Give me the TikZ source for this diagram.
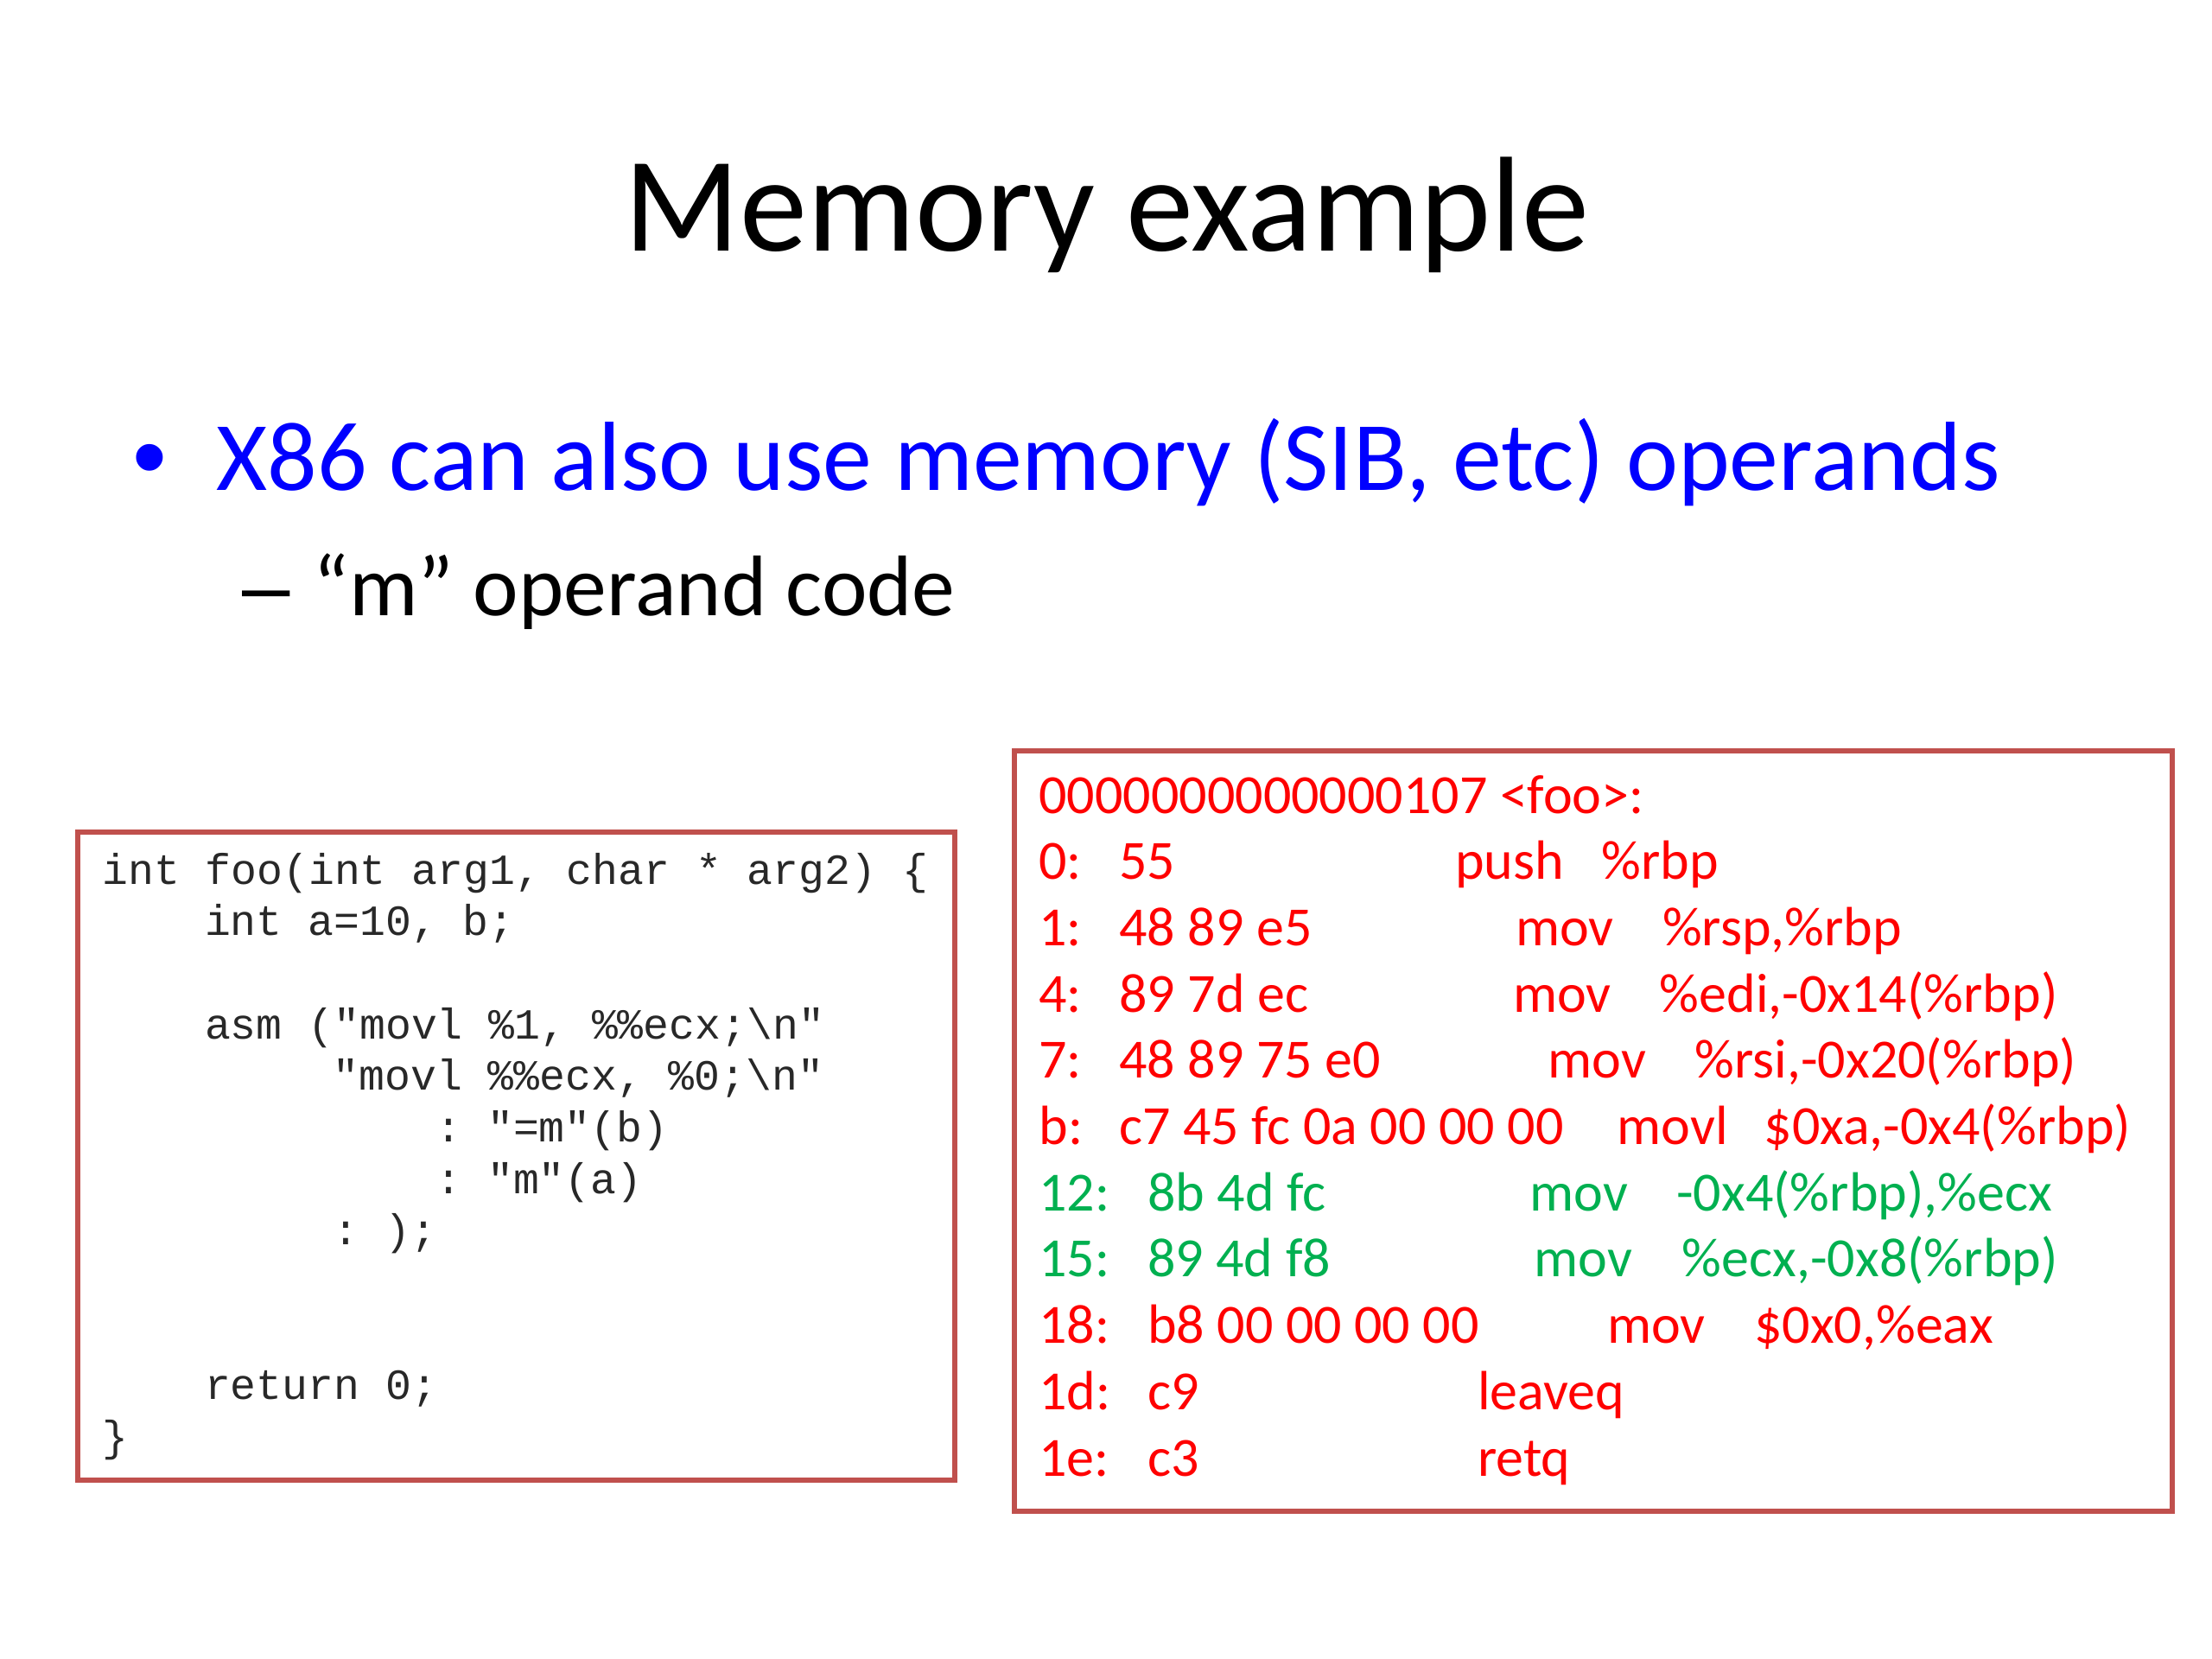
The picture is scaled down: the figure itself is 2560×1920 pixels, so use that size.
\documentclass[tikz,border=0pt]{standalone}
\usepackage{fontspec}
\setmainfont{Carlito}
\setmonofont{Liberation Mono}
\newfontfamily\arialfont{Liberation Sans}
\definecolor{boxred}{RGB}{192,80,77}
\definecolor{asmred}{RGB}{255,0,0}
\definecolor{asmgreen}{RGB}{0,176,80}
\definecolor{bulletblue}{RGB}{0,0,255}
\definecolor{codegray}{RGB}{40,40,40}
\begin{document}
\begin{tikzpicture}[x=0.28125pt,y=-0.28125pt,
  txt/.style={inner sep=0pt,anchor=base west},
  code/.style={txt,font=\fontsize{14}{16.8}\selectfont\ttfamily,text=codegray},
  asmr/.style={txt,font=\fontsize{18}{21.6}\selectfont,text=asmred},
  asmg/.style={txt,font=\fontsize{18}{21.6}\selectfont,text=asmgreen},
  frame/.style={draw=boxred,line width=1.5pt}]
\useasboundingbox (0,0) rectangle (2560,1920);
% title
\node[inner sep=0pt,anchor=base,font=\fontsize{44}{52}\selectfont] (title) at (1281,291) {Memory example};
% bullets
\node[inner sep=0pt,font=\fontsize{32}{38}\selectfont\arialfont,text=bulletblue] (dot) at (173,541) {•};
\node[txt,font=\fontsize{32}{38}\selectfont,text=bulletblue] (b1) at (250,568) {X86 can also use memory (SIB, etc) operands};
\node[txt,font=\fontsize{28}{34}\selectfont\arialfont] (dash) at (280,713) {–};
\node[txt,font=\fontsize{28}{34}\selectfont] (b2) at (362,713) {“m” operand code};
% boxes
\node[frame,inner sep=0pt,minimum width=1015*0.28125pt,minimum height=750*0.28125pt] (codebox) at (597.5,1338) {};
\node[frame,inner sep=0pt,minimum width=1340*0.28125pt,minimum height=880*0.28125pt] (asmbox) at (1844,1309) {};
% C code
\node[code] (c1) at (117.6,1023) {int foo(int arg1, char * arg2) \{};
\node[code] (c2) at (236.4,1082.7) {int a=10, b;};
\node[code] (c4) at (236.4,1202.1) {asm ("movl \%1, \%\%ecx;\textbackslash n"};
\node[code] (c5) at (384.9,1261.8) {"movl \%\%ecx, \%0;\textbackslash n"};
\node[code] (c6) at (503.7,1321.5) {: "=m"(b)};
\node[code] (c7) at (503.7,1381.2) {: "m"(a)};
\node[code] (c8) at (384.9,1440.9) {: );};
\node[code] (c11) at (236.4,1619.9) {return 0;};
\node[code] (c12) at (117.6,1679.6) {\}};
% disassembly
\node[asmr] (h) at (1201.7,941) {0000000000000107 <foo>:};
\node[asmr] (a0) at (1201.7,1017.7) {0:};
\node[asmr] at (1294.7,1017.7) {55};
\node[asmr] at (1683.3,1017.7) {push};
\node[asmr] at (1853.1,1017.7) {\%rbp};
\node[asmr] (a1) at (1201.7,1094.4) {1:};
\node[asmr] at (1294.7,1094.4) {48 89 e5};
\node[asmr] at (1753.5,1094.4) {mov};
\node[asmr] at (1923.3,1094.4) {\%rsp,\%rbp};
\node[asmr] (a4) at (1201.7,1171.1) {4:};
\node[asmr] at (1294.7,1171.1) {89 7d ec};
\node[asmr] at (1750.3,1171.1) {mov};
\node[asmr] at (1920.1,1171.1) {\%edi,-0x14(\%rbp)};
\node[asmr] (a7) at (1201.7,1247.8) {7:};
\node[asmr] at (1294.7,1247.8) {48 89 75 e0};
\node[asmr] at (1791.1,1247.8) {mov};
\node[asmr] at (1960.9,1247.8) {\%rsi,-0x20(\%rbp)};
\node[asmr] (ab) at (1201.7,1324.5) {b:};
\node[asmr] at (1294.7,1324.5) {c7 45 fc 0a 00 00 00};
\node[asmr] at (1871.1,1324.5) {movl};
\node[asmr] at (2040.9,1324.5) {\$0xa,-0x4(\%rbp)};
\node[asmg] (a12) at (1201.7,1401.2) {12:};
\node[asmg] at (1327.4,1401.2) {8b 4d fc};
\node[asmg] at (1769.9,1401.2) {mov};
\node[asmg] at (1939.6,1401.2) {-0x4(\%rbp),\%ecx};
\node[asmg] (a15) at (1201.7,1477.9) {15:};
\node[asmg] at (1327.4,1477.9) {89 4d f8};
\node[asmg] at (1774.7,1477.9) {mov};
\node[asmg] at (1946.2,1477.9) {\%ecx,-0x8(\%rbp)};
\node[asmr] (a18) at (1201.7,1554.6) {18:};
\node[asmr] at (1327.4,1554.6) {b8 00 00 00 00};
\node[asmr] at (1859.6,1554.6) {mov};
\node[asmr] at (2029.5,1554.6) {\$0x0,\%eax};
\node[asmr] (a1d) at (1201.7,1631.3) {1d:};
\node[asmr] at (1327.4,1631.3) {c9};
\node[asmr] at (1709.4,1631.3) {leaveq};
\node[asmr] (a1e) at (1201.7,1708) {1e:};
\node[asmr] at (1327.4,1708) {c3};
\node[asmr] at (1709.4,1708) {retq};
\end{tikzpicture}
\end{document}
